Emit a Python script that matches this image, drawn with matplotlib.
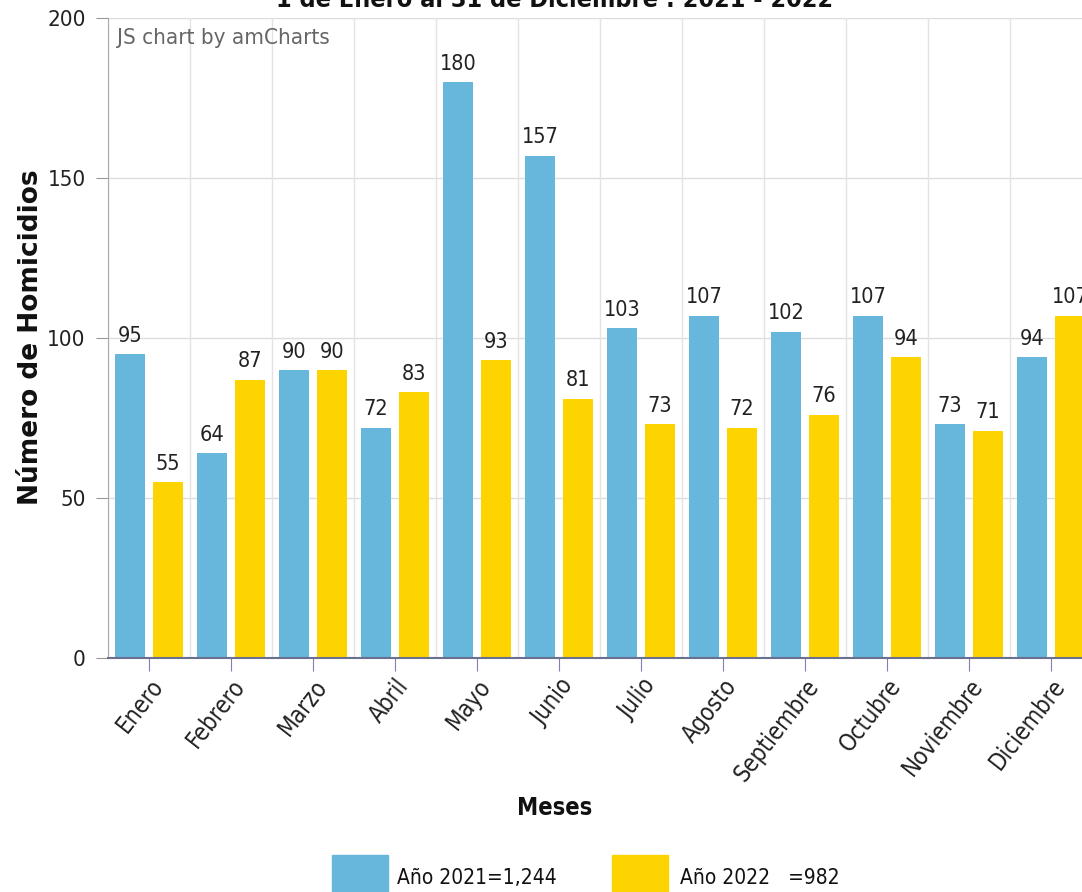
import matplotlib
matplotlib.use("Agg")
import matplotlib.pyplot as plt
import matplotlib.transforms as mtransforms
import numpy as np
from matplotlib.patches import Rectangle

months = ["Enero", "Febrero", "Marzo", "Abril", "Mayo", "Junio", "Julio",
          "Agosto", "Septiembre", "Octubre", "Noviembre", "Diciembre"]
y2021 = [95, 64, 90, 72, 180, 157, 103, 107, 102, 107, 73, 94]
y2022 = [55, 87, 90, 83, 93, 81, 73, 72, 76, 94, 71, 107]
yticks = [0, 50, 100, 150, 200]
title = "1 de Enero al 31 de Diciembre : 2021 - 2022"
legend_labels = ["Año 2021=1,244", "Año 2022   =982"]

plt.rcParams['font.family'] = ["DejaVu Sans"]
plt.rcParams['font.stretch'] = "condensed"

c_blue = "#67b7dc"
c_yel = "#fdd400"

W, H = 1082, 892
fig = plt.figure(figsize=(W / 100, H / 100), dpi=100)
ax_left, ax_right, ax_top, ax_bot = 108, 1092, 18, 658
ax = fig.add_axes([ax_left / W, 1 - ax_bot / H, (ax_right - ax_left) / W, (ax_bot - ax_top) / H])

x = np.arange(len(months))
bw = 0.366
off = 0.232
b1 = ax.bar(x - off, y2021, bw, color=c_blue, zorder=3)
b2 = ax.bar(x + off, y2022, bw, color=c_yel, zorder=3)
for bars, vals in ((b1, y2021), (b2, y2022)):
    for r, v in zip(bars, vals):
        ax.annotate(str(v), (r.get_x() + r.get_width() / 2, v), xytext=(0, 6),
                    textcoords="offset points", ha="center", va="bottom",
                    fontsize=15.5, color="#222222")

ax.set_xlim(-0.5, len(months) - 0.5)
ax.set_ylim(0, 200)
ax.set_yticks(yticks)
ax.set_yticklabels([str(t) for t in yticks], fontsize=16, color="#222222")
ax.set_xticks(x)
ax.set_xticklabels(months, rotation=52, ha="right", va="top", rotation_mode="anchor",
                   fontsize=17, color="#222222")
shift = mtransforms.ScaledTranslation(-8 / 100, 0, fig.dpi_scale_trans)
for lbl in ax.get_xticklabels():
    lbl.set_transform(lbl.get_transform() + shift)
ax.tick_params(axis="y", length=9, color="#999999", pad=7)
ax.tick_params(axis="x", length=9, color="#8080b8", pad=3)

for t in yticks[1:]:
    ax.axhline(t, color="#dddddd", lw=1, zorder=1)
for b in np.arange(-0.5, len(months), 1.0):
    ax.axvline(b, color="#e3e3e3", lw=1, zorder=1)

for s in ["top", "right"]:
    ax.spines[s].set_visible(False)
ax.spines["left"].set_color("#aaaaaa")
ax.spines["bottom"].set_color("#6a7090")
ax.spines["bottom"].set_linewidth(1.5)
ax.spines["bottom"].set_zorder(4)

ax.text(0.009, 0.985, "JS chart by amCharts", transform=ax.transAxes, fontsize=16,
        color="#666666", ha="left", va="top")

fig.text(555 / W, 1 - 0 / H, title, ha="center", va="center", fontsize=18,
         fontweight="bold", color="#111111")
fig.text(31 / W, 1 - 337 / H, "Número de Homicidios", rotation=90, ha="center",
         va="center", fontsize=19, fontweight="bold", fontstretch="normal", color="#111111")
fig.text(555 / W, 1 - 808 / H, "Meses", ha="center", va="center", fontsize=17,
         fontweight="bold", color="#111111")

for (xs, col, lab, tx) in ((332, c_blue, legend_labels[0], 397), (612, c_yel, legend_labels[1], 680)):
    fig.patches.append(Rectangle((xs / W, 1 - 895 / H), 56 / W, 40 / H, transform=fig.transFigure,
                                 color=col, figure=fig))
    fig.text(tx / W, 1 - 878 / H, lab, ha="left", va="center", fontsize=15, color="#111111")

fig.savefig("out.png", dpi=100)
